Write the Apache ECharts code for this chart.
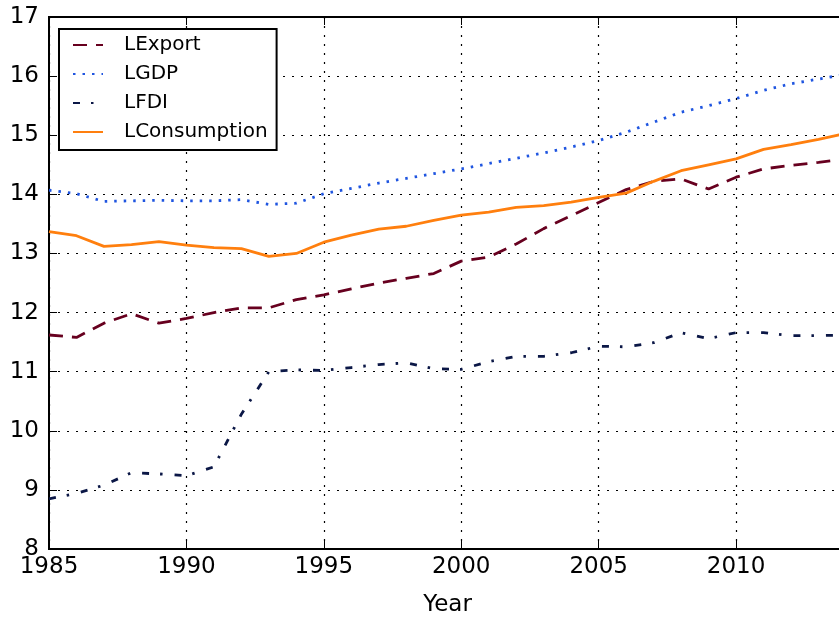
<!DOCTYPE html>
<html>
<head>
<meta charset="utf-8">
<script src="https://cdn.jsdelivr.net/npm/echarts@6/dist/echarts.min.js"></script>
<style>
html, body { margin: 0; padding: 0; overflow: hidden; background: #fff; }
#chart { width: 847px; height: 619px; }
</style>
</head>
<body>
<div id="chart"></div>
<script>
var years = [1985, 1986, 1987, 1988, 1989, 1990, 1991, 1992, 1993, 1994,
  1995, 1996, 1997, 1998, 1999, 2000, 2001, 2002, 2003, 2004,
  2005, 2006, 2007, 2008, 2009, 2010, 2011, 2012, 2013, 2014];
var lExport = [11.62, 11.58, 11.82, 11.98, 11.82, 11.90, 12.00, 12.08, 12.08, 12.22,
  12.30, 12.40, 12.50, 12.58, 12.66, 12.87, 12.94, 13.16, 13.42, 13.64,
  13.86, 14.08, 14.22, 14.26, 14.09, 14.29, 14.43, 14.49, 14.54, 14.60];
var lGdp = [14.07, 14.01, 13.88, 13.89, 13.90, 13.89, 13.89, 13.91, 13.83, 13.85,
  14.01, 14.10, 14.19, 14.27, 14.35, 14.43, 14.52, 14.61, 14.70, 14.80,
  14.91, 15.05, 15.22, 15.39, 15.50, 15.62, 15.76, 15.87, 15.95, 16.03];
var lFdi = [8.85, 8.94, 9.08, 9.29, 9.27, 9.24, 9.39, 10.28, 11.00, 11.03,
  11.02, 11.07, 11.12, 11.15, 11.05, 11.04, 11.17, 11.26, 11.26, 11.32,
  11.43, 11.42, 11.49, 11.66, 11.56, 11.66, 11.66, 11.61, 11.61, 11.62];
var lConsumption = [13.37, 13.30, 13.12, 13.15, 13.20, 13.14, 13.10, 13.08, 12.95, 13.00,
  13.19, 13.31, 13.41, 13.46, 13.56, 13.65, 13.70, 13.78, 13.81, 13.87,
  13.95, 14.02, 14.22, 14.40, 14.50, 14.60, 14.76, 14.84, 14.93, 15.03];
var yTicks = [8, 17, 1];   // min, max, step
var xTicks = [1985, 2014, 5];

function pairs(vals) {
  return years.map(function(y, i) { return [y, vals[i]]; });
}

var font = 'DejaVu Sans';
var chart = echarts.init(document.getElementById('chart'));

var dotted = { color: '#000', width: 1.2, type: [2, 7] };
var tick = { show: true, inside: true, length: 8, lineStyle: { color: '#000', width: 1 } };

var option = {
  animation: false,
  backgroundColor: '#fff',
  grid: {
    left: 49, right: 1, top: 17, bottom: 70,
    outerBoundsMode: 'none',
    show: true, borderColor: '#000', borderWidth: 2, backgroundColor: 'transparent'
  },
  legend: {
    orient: 'vertical',
    left: 59, top: 29,
    padding: [6, 9, 8, 13],
    itemWidth: 30, itemHeight: 20, itemGap: 9,
    borderColor: '#000', borderWidth: 2, backgroundColor: '#fff',
    itemStyle: { opacity: 0 },
    textStyle: { fontFamily: font, fontSize: 20, color: '#000', padding: [0, 0, 0, 16] },
    data: ['LExport', 'LGDP', 'LFDI', 'LConsumption']
  },
  xAxis: [{
    type: 'value', min: xTicks[0], max: xTicks[1], interval: xTicks[2],
    name: 'Year', nameLocation: 'middle', nameGap: 45,
    nameTextStyle: { fontFamily: font, fontSize: 23, color: '#000' },
    axisLine: { show: true, lineStyle: { color: '#000', width: 2 } },
    axisTick: tick,
    axisLabel: {
      fontFamily: font, fontSize: 23, color: '#000', margin: 7,
      showMaxLabel: false,
      formatter: function(v) { return String(v); }
    },
    splitLine: { show: true, lineStyle: dotted }
  }, {
    type: 'value', position: 'top', min: xTicks[0], max: xTicks[1], interval: xTicks[2],
    axisLine: { show: false },
    axisTick: tick,
    axisLabel: { show: false },
    splitLine: { show: false }
  }],
  yAxis: {
    type: 'value', min: yTicks[0], max: yTicks[1], interval: yTicks[2],
    axisLine: { show: true, lineStyle: { color: '#000', width: 2 } },
    axisTick: tick,
    axisLabel: { fontFamily: font, fontSize: 23, color: '#000', margin: 10 },
    splitLine: { show: true, lineStyle: dotted }
  },
  series: [{
    name: 'LExport', type: 'line', symbol: 'none', data: pairs(lExport),
    itemStyle: { color: '#67001f' },
    lineStyle: { color: '#67001f', width: 2.8, type: [14, 9] }
  }, {
    name: 'LGDP', type: 'line', symbol: 'none', data: pairs(lGdp),
    itemStyle: { color: '#1f55e0' },
    lineStyle: { color: '#1f55e0', width: 2.8, type: [2.5, 7] }
  }, {
    name: 'LFDI', type: 'line', symbol: 'none', data: pairs(lFdi),
    itemStyle: { color: '#0b1746' },
    lineStyle: { color: '#0b1746', width: 2.8, type: [7, 11, 2.5, 12] }
  }, {
    name: 'LConsumption', type: 'line', symbol: 'none', data: pairs(lConsumption),
    itemStyle: { color: '#ff7f0e' },
    lineStyle: { color: '#ff7f0e', width: 2.8 }
  }]
};
chart.setOption(option);
</script>
</body>
</html>
